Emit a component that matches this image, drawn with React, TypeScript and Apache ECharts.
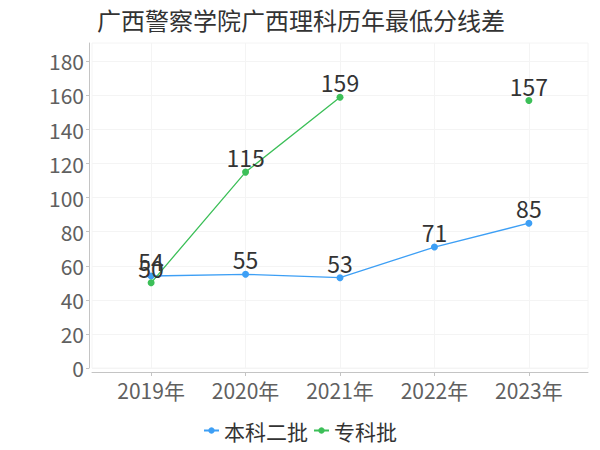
import React, { useEffect, useRef } from "react";
import * as echarts from "echarts";

const TITLE = "广西警察学院广西理科历年最低分线差";
const YEARS = ["2019年", "2020年", "2021年", "2022年", "2023年"];
const SERIES_NAMES = ["本科二批", "专科批"];
const BENKE_ERPI: (number | null)[] = [54, 55, 53, 71, 85];
const ZHUANKE: (number | null)[] = [50, 115, 159, null, 157];
const Y_TICKS = [0, 20, 40, 60, 80, 100, 120, 140, 160, 180];

const COLORS = ["#3d9ff5", "#3cbf58"];
const FONT = "'Noto Sans CJK SC', 'Noto Sans', sans-serif";

export default function App() {
  const ref = useRef<HTMLDivElement>(null);

  useEffect(() => {
    if (!ref.current) return;
    const chart = echarts.init(ref.current, null, { renderer: "svg" });
    const idx = YEARS.map((_, i) => i);
    const toData = (arr: (number | null)[]) =>
      arr.map((v, i) => [i, v === null ? "-" : v]);
    const mkSeries = (name: string, arr: (number | null)[], color: string) => ({
      name,
      type: "line",
      data: toData(arr),
      symbol: "circle",
      symbolSize: 7,
      connectNulls: false,
      itemStyle: { color },
      lineStyle: { color, width: 1.3 },
      label: {
        show: true,
        position: "top",
        distance: 0,
        fontSize: 23,
        color: "#333",
        fontFamily: FONT,
        formatter: (p: any) => String(p.value[1]),
      },
      emphasis: { disabled: true },
    });
    chart.setOption({
      animation: false,
      color: COLORS,
      textStyle: { fontFamily: FONT },
      title: {
        text: TITLE,
        left: 92,
        top: 2,
        textStyle: { fontSize: 24, fontWeight: "normal", color: "#333", fontFamily: FONT },
      },
      legend: {
        bottom: 4,
        left: "center",
        itemGap: 5,
        itemWidth: 15,
        itemHeight: 8,
        textStyle: { fontSize: 21, color: "#333", fontFamily: FONT },
        data: SERIES_NAMES,
      },
      grid: {
        left: 92,
        right: 12,
        top: 43,
        bottom: 82,
        show: true,
        borderColor: "#f4f4f4",
        borderWidth: 1,
        containLabel: false,
      },
      xAxis: {
        type: "value",
        min: -0.626,
        max: idx.length - 1 + 0.626,
        offset: 4,
        axisLine: { show: true, onZero: false, lineStyle: { color: "#c4c4c4", width: 1 } },
        axisTick: { show: true, length: 4, lineStyle: { color: "#c4c4c4" }, customValues: idx },
        axisLabel: {
          customValues: idx,
          formatter: (v: number) => YEARS[Math.round(v)] ?? "",
          fontSize: 21,
          color: "#606060",
          margin: 7,
          fontFamily: FONT,
        },
        splitLine: { show: true, lineStyle: { color: "#f4f4f4" } },
      },
      yAxis: {
        type: "value",
        min: 0,
        max: 190.8,
        interval: 20,
        offset: 3,
        axisLine: { show: true, onZero: false, lineStyle: { color: "#c4c4c4", width: 1 } },
        axisTick: { show: true, length: 3, lineStyle: { color: "#c4c4c4" }, customValues: Y_TICKS },
        axisLabel: {
          customValues: Y_TICKS,
          fontSize: 21,
          color: "#606060",
          margin: 5,
          fontFamily: FONT,
        },
        splitLine: { show: true, lineStyle: { color: "#f4f4f4" } },
      },
      series: [
        mkSeries(SERIES_NAMES[0], BENKE_ERPI, COLORS[0]),
        mkSeries(SERIES_NAMES[1], ZHUANKE, COLORS[1]),
      ],
    });
    return () => chart.dispose();
  }, []);

  return <div ref={ref} style={{ width: 600, height: 450, position: "absolute", left: 0, top: 0 }} />;
}
